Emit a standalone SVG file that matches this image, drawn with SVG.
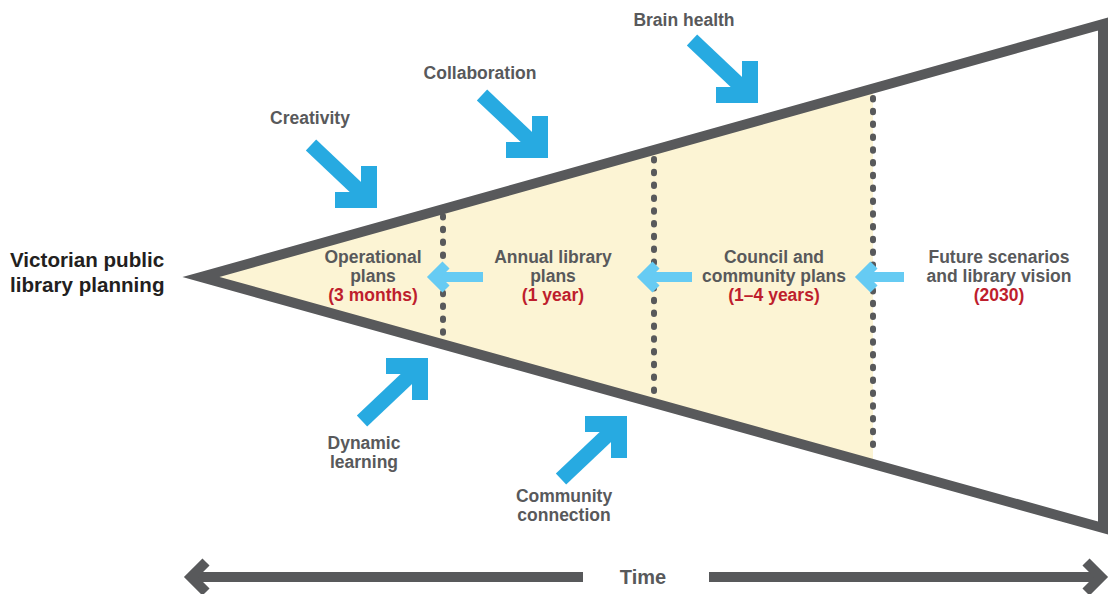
<svg xmlns="http://www.w3.org/2000/svg" width="1110" height="594" viewBox="0 0 1110 594">
  <style>
    .lbl { font-family: "Liberation Sans", Arial, sans-serif; font-weight: bold; font-size: 17.5px; fill: #58595B; text-anchor: middle; }
    .red { fill: #BE1E2D; }
    .title { font-family: "Liberation Sans", Arial, sans-serif; font-weight: bold; font-size: 20.6px; fill: #231F20; }
    .time { font-family: "Liberation Sans", Arial, sans-serif; font-weight: bold; font-size: 20px; fill: #58595B; text-anchor: middle; }
    .dots { stroke: #58595B; stroke-width: 6; stroke-linecap: round; stroke-dasharray: 1.5 11.3; fill: none; }
    .bigarrow path, .bigarrow polyline, .bigarrow line { stroke: #27AAE1; fill: none; stroke-linejoin: miter; }
    .lb { stroke: #66CBF3; stroke-width: 10; fill: none; stroke-linejoin: miter; }
    .tl { stroke: #58595B; stroke-width: 10; fill: none; stroke-linejoin: miter; }
  </style>
  <defs>
    <g id="arrowDR" class="bigarrow">
      <line x1="-66" y1="-63" x2="-10" y2="-10" stroke-width="15"/>
      <polyline points="-8,-42 -8,-8 -42,-8" stroke-width="16"/>
    </g>
  </defs>

  <g id="funnel">
    <polygon points="201,277 873,89.5 873,463" fill="#FCF4D4"/>
    <line class="dots" x1="443" y1="216" x2="443" y2="338"/>
    <line class="dots" x1="654" y1="159" x2="654" y2="396"/>
    <line class="dots" x1="873" y1="98" x2="873" y2="456"/>
    <polygon points="201,277 1103,24 1103,528" fill="none" stroke="#58595B" stroke-width="10" stroke-linejoin="miter" stroke-miterlimit="10"/>
  </g>

  <g id="connectors">
    <use href="#arrowDR" transform="translate(377,208)"/>
    <use href="#arrowDR" transform="translate(548,158)"/>
    <use href="#arrowDR" transform="translate(758,103)"/>
    <use href="#arrowDR" transform="translate(428,358) scale(1,-1)"/>
    <use href="#arrowDR" transform="translate(627,416) scale(1,-1)"/>
    <g id="flow-arrows">
      <line class="lb" x1="436" y1="277" x2="483" y2="277"/>
      <polyline class="lb" points="446,265 434,277 446,289"/>
      <line class="lb" x1="646" y1="277" x2="692" y2="277"/>
      <polyline class="lb" points="656,265 644,277 656,289"/>
      <line class="lb" x1="864" y1="277" x2="904" y2="277"/>
      <polyline class="lb" points="874,265 862,277 874,289"/>
    </g>
    <g id="time-arrow">
      <line class="tl" x1="189" y1="577" x2="583" y2="577"/>
      <polyline class="tl" points="206,562 191,577 206,592"/>
      <line class="tl" x1="709" y1="577" x2="1103" y2="577"/>
      <polyline class="tl" points="1086,562 1101,577 1086,592"/>
    </g>
  </g>

  <g id="title">
    <text class="title" x="10" y="267">Victorian public</text>
    <text class="title" x="10" y="292">library planning</text>
  </g>

  <g id="operational">
    <text class="lbl" x="373" y="263">Operational</text>
    <text class="lbl" x="373" y="282">plans</text>
    <text class="lbl red" x="373" y="301">(3 months)</text>
  </g>
  <g id="annual">
    <text class="lbl" x="553" y="263">Annual library</text>
    <text class="lbl" x="553" y="282">plans</text>
    <text class="lbl red" x="553" y="301">(1 year)</text>
  </g>
  <g id="council">
    <text class="lbl" x="774" y="263">Council and</text>
    <text class="lbl" x="774" y="282">community plans</text>
    <text class="lbl red" x="774" y="301">(1–4 years)</text>
  </g>
  <g id="future">
    <text class="lbl" x="999" y="263">Future scenarios</text>
    <text class="lbl" x="999" y="282">and library vision</text>
    <text class="lbl red" x="999" y="301">(2030)</text>
  </g>

  <g id="creativity"><text class="lbl" x="310" y="124">Creativity</text></g>
  <g id="collaboration"><text class="lbl" x="480" y="79">Collaboration</text></g>
  <g id="brain-health"><text class="lbl" x="684" y="26">Brain health</text></g>
  <g id="dynamic-learning">
    <text class="lbl" x="364" y="449">Dynamic</text>
    <text class="lbl" x="364" y="468">learning</text>
  </g>
  <g id="community-connection">
    <text class="lbl" x="564" y="502">Community</text>
    <text class="lbl" x="564" y="521">connection</text>
  </g>
  <g id="time"><text class="time" x="643" y="584">Time</text></g>
</svg>
